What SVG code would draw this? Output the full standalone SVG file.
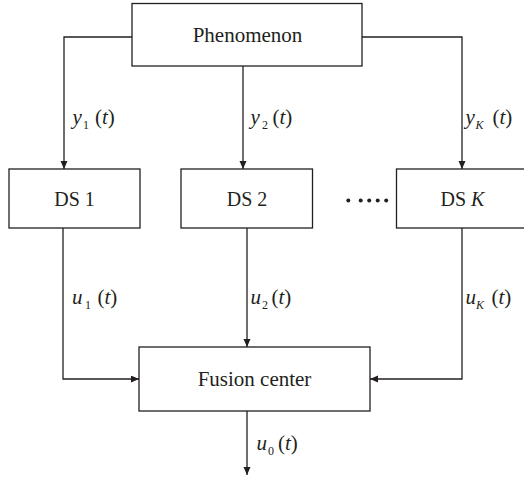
<svg xmlns="http://www.w3.org/2000/svg" width="524" height="477" viewBox="0 0 524 477">
<style>
.box{fill:#fff;stroke:#231f20;stroke-width:1.3}
.lbl{font-family:"Liberation Serif","Times New Roman",serif;font-size:21px;fill:#231f20;text-anchor:middle}
.ds{font-size:20px}
.m{font-family:"Liberation Serif","Times New Roman",serif;font-size:21px;fill:#231f20}
.i{font-style:italic}
.s{font-size:12px}
.c{fill:none;stroke:#231f20;stroke-width:1.3}
.dot{fill:#231f20}
</style>
<defs>
<marker id="ah" markerUnits="userSpaceOnUse" markerWidth="8" markerHeight="8" refX="8" refY="3.5" orient="auto">
<path d="M0,0 L8,3.5 L0,7 z" fill="#231f20"/>
</marker>
</defs>
<rect width="524" height="477" fill="#fff"/>
<g id="connectors">
<path class="c" d="M132,37 H64 V169" marker-end="url(#ah)"/>
<path class="c" d="M243,66 V169" marker-end="url(#ah)"/>
<path class="c" d="M362,37 H462 V169" marker-end="url(#ah)"/>
<path class="c" d="M63,228 V379 H139" marker-end="url(#ah)"/>
<path class="c" d="M247,228 V347" marker-end="url(#ah)"/>
<path class="c" d="M462,228 V379 H370" marker-end="url(#ah)"/>
<path class="c" d="M247,411 V475" marker-end="url(#ah)"/>
</g>
<g id="labels">
<text class="m" y="123.5"><tspan class="i" x="72.5">y</tspan><tspan class="s" x="83" y="128.5">1</tspan><tspan x="95" y="123.5">(</tspan><tspan class="i">t</tspan>)</text>
<text class="m" y="123.5"><tspan class="i" x="250.5">y</tspan><tspan class="s" x="262" y="128.5">2</tspan><tspan x="272.5" y="123.5">(</tspan><tspan class="i">t</tspan>)</text>
<text class="m" y="123.5"><tspan class="i" x="465.5">y</tspan><tspan class="s i" x="475.5" y="128.5">K</tspan><tspan x="492.5" y="123.5">(</tspan><tspan class="i">t</tspan>)</text>
<text class="m" y="304"><tspan class="i" x="72">u</tspan><tspan class="s" x="85" y="309">1</tspan><tspan x="97.5" y="304">(</tspan><tspan class="i">t</tspan>)</text>
<text class="m" y="304"><tspan class="i" x="250.5">u</tspan><tspan class="s" x="262" y="309">2</tspan><tspan x="271.5" y="304">(</tspan><tspan class="i">t</tspan>)</text>
<text class="m" y="304"><tspan class="i" x="465.5">u</tspan><tspan class="s i" x="476" y="309">K</tspan><tspan x="491.5" y="304">(</tspan><tspan class="i">t</tspan>)</text>
<text class="m" y="450"><tspan class="i" x="256.5">u</tspan><tspan class="s" x="268" y="455">0</tspan><tspan x="278" y="450">(</tspan><tspan class="i">t</tspan>)</text>
</g>
<g id="phenomenon">
<rect class="box" x="132" y="3.5" width="230" height="62.5"/>
<text class="lbl" x="247.5" y="42">Phenomenon</text>
</g>
<g id="ds1">
<rect class="box" x="9" y="169" width="131" height="59"/>
<text class="lbl ds" x="74.5" y="205.5">DS 1</text>
</g>
<g id="ds2">
<rect class="box" x="181" y="169" width="131.5" height="59"/>
<text class="lbl ds" x="247" y="205.5">DS 2</text>
</g>
<g id="dsk">
<rect class="box" x="396.5" y="169" width="132" height="59"/>
<text class="lbl ds" x="462.5" y="205.5">DS <tspan class="i">K</tspan></text>
</g>
<g id="dots">
<circle class="dot" cx="348.3" cy="200.5" r="2"/>
<circle class="dot" cx="360.7" cy="200.5" r="2"/>
<circle class="dot" cx="369.2" cy="200.5" r="2"/>
<circle class="dot" cx="377.7" cy="200.5" r="2"/>
<circle class="dot" cx="386.2" cy="200.5" r="2"/>
</g>
<g id="fusion">
<rect class="box" x="139" y="347" width="231" height="64"/>
<text class="lbl" x="254.5" y="386">Fusion center</text>
</g>
</svg>
